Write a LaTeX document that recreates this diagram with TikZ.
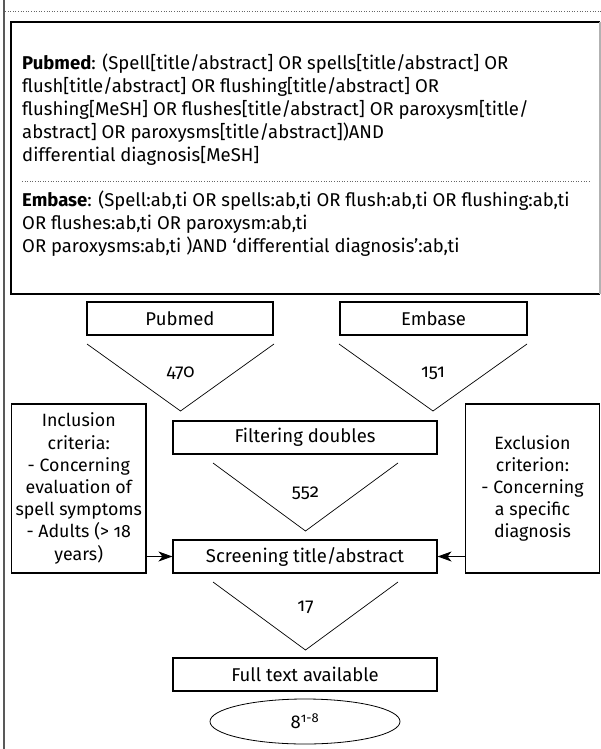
\documentclass[tikz,border=0pt]{standalone}
\usepackage{fontspec}
\setmainfont{Fira Sans}[Numbers=OldStyle]
\usetikzlibrary{arrows.meta,shapes.geometric}
\begin{document}
\begin{tikzpicture}[x=1pt,y=-1pt,
  txt/.style={font=\fontsize{18.5}{22.5}\selectfont},
  stxt/.style={font=\fontsize{17.8}{22.2}\selectfont},
  qtxt/.style={font=\fontsize{18.5}{23}\selectfont, anchor=north west, align=left, inner sep=0pt},
  box/.style={draw, line width=1.1pt, minimum height=33pt, inner sep=0pt, txt},
  sidebox/.style={draw, line width=1.1pt, minimum width=134.5pt, minimum height=169pt, inner sep=0pt, align=center, stxt},
  vee/.style={line width=0.7pt},
  arr/.style={line width=1pt, -{Stealth[length=14pt,width=10pt,inset=4pt]}},
  sep/.style={dotted, line width=0.6pt, gray!80!black}]
\useasboundingbox (0,0) rectangle (601,749);
% page frame marks
\draw[gray!70!black, line width=2pt] (3.5,0) -- (3.5,749);
\draw[sep] (5,11) -- (601,11);
% query box
\draw[line width=1.2pt] (600,22) -- (11,22) -- (11,294) -- (600,294);
\draw[line width=1.2pt, gray!60] (600,22) -- (600,294);
\node[qtxt] (pq) at (22,54) {\textbf{Pubmed}: (Spell[title/abstract] OR spells[title/abstract] OR\\
flush[title/abstract] OR flushing[title/abstract] OR\\
flushing[MeSH] OR flushes[title/abstract] OR paroxysm[title/\\
abstract] OR paroxysms[title/abstract])AND\\
differential diagnosis[MeSH]};
\draw[sep] (22,181) -- (590,181);
\node[qtxt] (eq) at (22,191) {\textbf{Embase}: (Spell:ab,ti OR spells:ab,ti OR flush:ab,ti OR flushing:ab,ti\\
OR flushes:ab,ti OR paroxysm:ab,ti\\
OR paroxysms:ab,ti )AND `differential diagnosis':ab,ti};
% sources
\node[box, minimum width=186pt] (pub) at (180,318.5) {Pubmed};
\node[box, minimum width=187pt] (emb) at (433.5,318.5) {Embase};
\draw[vee] (87,344) -- (180.5,411) -- (274,344);
\node[txt] (n470) at (180.5,373) {470};
\draw[vee] (339,344) -- (433,411) -- (527,344);
\node[txt] (n151) at (433,373) {151};
% main flow
\node[box, minimum width=264pt] (fil) at (305,437.5) {Filtering doubles};
\draw[vee] (213,463) -- (305.5,531) -- (398,463);
\node[txt] (n552) at (305.5,493) {552};
\node[box, minimum width=264pt] (scr) at (305,556.5) {Screening title/abstract};
\draw[vee] (213,582) -- (305.5,650) -- (398,582);
\node[txt] (n17) at (305.5,607) {17};
\node[box, minimum width=264pt] (ful) at (305,674.5) {Full text available};
\node[draw, ellipse, line width=0.8pt, minimum width=190pt, minimum height=45pt, inner sep=0pt, txt] (res) at (305,721.5) {8\textsuperscript{1-8}};
% criteria
\node[sidebox] (inc) at (78.75,488.5) {Inclusion\\criteria:\\- Concerning\\evaluation of\\spell symptoms\\- Adults (> 18\\years)};
\node[sidebox] (exc) at (532.5,488.5) {Exclusion\\criterion:\\- Concerning\\a specific\\diagnosis};
\draw[arr] (inc.east |- scr.west) -- (scr.west);
\draw[arr] (exc.west |- scr.east) -- (scr.east);
\end{tikzpicture}
\end{document}
